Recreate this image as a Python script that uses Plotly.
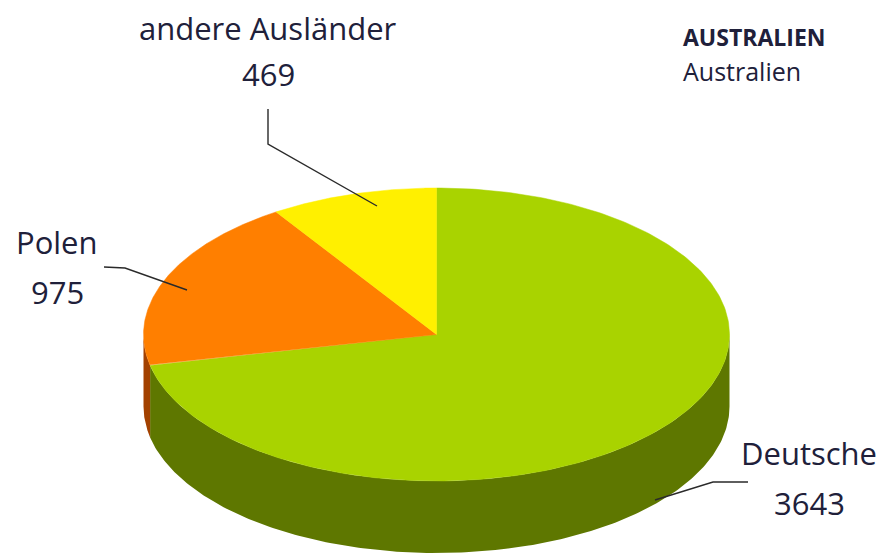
import numpy as np
import plotly.graph_objects as go

# ---- data ----
categories = ["Deutsche", "Polen", "andere Ausländer"]
values = [3643, 975, 469]
value_labels = ["3643", "975", "469"]
title_main = "AUSTRALIEN"
title_sub = "Australien"

# ---- styling / geometry ----
top_colors = ["#A9D300", "#FF7F00", "#FFF000"]
side_colors = ["#5E7700", "#A34100", "#B8AA00"]
W, H = 886, 553
OFFSET = 8  # page body margin compensation
CX, CY, RX, RY, DEPTH = 436.5, 334.5, 293.0, 146.5, 72.0
TEXT_COLOR = "#20203A"
FONT = "Open Sans"

# label layout: (center x, first line y, second line y)
label_pos = {
    "Deutsche": (809, 453, 503),
    "Polen": (57, 242, 292),
    "andere Ausländer": (268, 28, 74),
}
# leader lines (label end, elbow, slice end)
leaders = {
    "Deutsche": [(748, 482), (713, 482), (655, 500)],
    "Polen": [(104, 267), (125, 268), (187, 290)],
    "andere Ausländer": [(268, 109), (268, 144), (377, 206)],
}


def pt(theta_deg, dy=0.0):
    t = np.radians(theta_deg)
    return CX + RX * np.sin(t), CY - RY * np.cos(t) + dy


fig = go.Figure()

total = float(sum(values))
angles = np.concatenate([[0.0], np.cumsum(values) / total * 360.0])

# sides first (visible front half: 90..270 deg clockwise from top)
for i, cat in enumerate(categories):
    a0, a1 = angles[i], angles[i + 1]
    s0, s1 = max(a0, 90.0), min(a1, 270.0)
    if s1 <= s0:
        continue
    th = np.linspace(s0, s1, 200)
    xt, yt = pt(th)
    xb, yb = pt(th[::-1], DEPTH)
    fig.add_trace(go.Scatter(
        x=np.concatenate([xt, xb, xt[:1]]),
        y=np.concatenate([yt, yb, yt[:1]]),
        fill="toself", fillcolor=side_colors[i], mode="lines",
        line=dict(width=0, color=side_colors[i]), hoverinfo="skip", showlegend=False))

# top faces
for i, cat in enumerate(categories):
    a0, a1 = angles[i], angles[i + 1]
    th = np.linspace(a0, a1, 300)
    xt, yt = pt(th)
    fig.add_trace(go.Scatter(
        x=np.concatenate([[CX], xt, [CX]]),
        y=np.concatenate([[CY], yt, [CY]]),
        fill="toself", fillcolor=top_colors[i], mode="lines",
        line=dict(width=0.5, color=top_colors[i]), hoverinfo="skip", showlegend=False,
        name=cat))

# leader lines
for cat in categories:
    pts = leaders[cat]
    fig.add_trace(go.Scatter(
        x=[p[0] for p in pts], y=[p[1] for p in pts], mode="lines",
        line=dict(color="#2A2A2A", width=1.4), hoverinfo="skip", showlegend=False))

# labels
for cat, val in zip(categories, value_labels):
    x, y1, y2 = label_pos[cat]
    fig.add_annotation(x=x, y=y1, text=cat, showarrow=False, xref="x", yref="y",
                       xanchor="center", yanchor="middle",
                       font=dict(family=FONT, size=31, color=TEXT_COLOR))
    fig.add_annotation(x=x, y=y2, text=val, showarrow=False, xref="x", yref="y",
                       xanchor="center", yanchor="middle",
                       font=dict(family=FONT, size=31, color=TEXT_COLOR))

fig.add_annotation(x=681, y=37, text="<b>" + title_main + "</b>", showarrow=False,
                   xref="x", yref="y", xanchor="left", yanchor="middle",
                   font=dict(family=FONT, size=23, color=TEXT_COLOR))
fig.add_annotation(x=681, y=71, text=title_sub, showarrow=False,
                   xref="x", yref="y", xanchor="left", yanchor="middle",
                   font=dict(family=FONT, size=25, color=TEXT_COLOR))

fig.update_layout(
    width=W, height=H, margin=dict(l=0, r=0, t=0, b=0),
    paper_bgcolor="white", plot_bgcolor="white",
    xaxis=dict(range=[OFFSET, W + OFFSET], visible=False, fixedrange=True),
    yaxis=dict(range=[H + OFFSET, OFFSET], visible=False, fixedrange=True),
)

fig.write_html("out.html")
